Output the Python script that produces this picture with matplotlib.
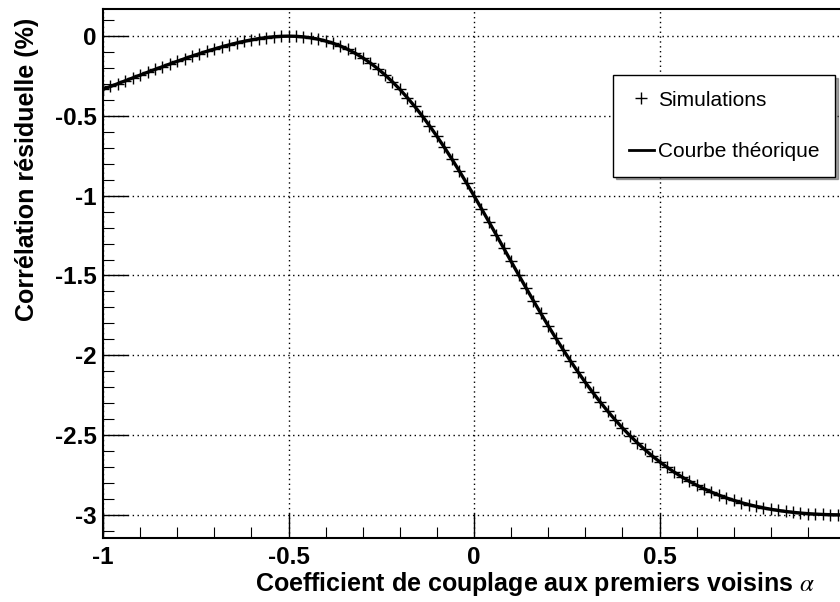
import numpy as np
import matplotlib.pyplot as plt
from matplotlib.lines import Line2D
from matplotlib.ticker import MultipleLocator

plt.rcParams["font.family"] = ["Liberation Sans", "DejaVu Sans"]
plt.rcParams["mathtext.fontset"] = "stix"

# coupling coefficient alpha, sampled every 0.02 from -1 to 1
alpha = np.linspace(-1, 1, 101)

# residual correlation (%)
correlation = -np.array([
    0.3333, 0.3155, 0.2977, 0.2799, 0.2620, 0.2443, 0.2266, 0.2091, 0.1918, 0.1747,
    0.1579, 0.1415, 0.1255, 0.1100, 0.0951, 0.0808, 0.0673, 0.0547, 0.0431, 0.0326,
    0.0233, 0.0153, 0.0088, 0.0040, 0.0010, 0.0000, 0.0011, 0.0045, 0.0104, 0.0189,
    0.0303, 0.0447, 0.0623, 0.0832, 0.1076, 0.1356, 0.1674, 0.2030, 0.2425, 0.2859,
    0.3333, 0.3847, 0.4399, 0.4988, 0.5614, 0.6275, 0.6967, 0.7689, 0.8437, 0.9209,
    1.0000, 1.0807, 1.1627, 1.2454, 1.3286, 1.4118, 1.4946, 1.5766, 1.6575, 1.7370,
    1.8148, 1.8906, 1.9641, 2.0352, 2.1038, 2.1695, 2.2324, 2.2924, 2.3494, 2.4035,
    2.4545, 2.5027, 2.5479, 2.5902, 2.6298, 2.6667, 2.7009, 2.7327, 2.7620, 2.7891,
    2.8140, 2.8367, 2.8575, 2.8764, 2.8936, 2.9091, 2.9230, 2.9354, 2.9466, 2.9563,
    2.9649, 2.9724, 2.9788, 2.9842, 2.9887, 2.9924, 2.9952, 2.9974, 2.9989, 2.9997,
    3.0000,
])

fig = plt.figure(figsize=(8.4, 6.02), dpi=100)
ax = fig.add_axes([103 / 840, 64 / 602, 742 / 840, 529 / 602])

ax.plot(alpha, correlation, color="black", lw=2.4, zorder=3)
ax.plot(alpha, correlation, ls="none", marker="+", ms=8, mew=1.0,
        color="black", zorder=4)

ax.set_xlim(-1, 1)
ax.set_ylim(-3.145, 0.17)
ax.xaxis.set_major_locator(MultipleLocator(0.5))
ax.xaxis.set_minor_locator(MultipleLocator(0.1))
ax.yaxis.set_major_locator(MultipleLocator(0.5))
ax.yaxis.set_minor_locator(MultipleLocator(0.1))
ax.xaxis.set_major_formatter(lambda v, p: "{:g}".format(v))
ax.yaxis.set_major_formatter(lambda v, p: "{:g}".format(v))

ax.tick_params(which="both", direction="in", top=False, right=False, color="black")
ax.tick_params(which="major", length=18, width=1.0, labelsize=17.5)
ax.tick_params(which="minor", length=8, width=0.8)
ax.tick_params(axis="x", pad=6)
ax.tick_params(axis="y", pad=4.5)
for lab in ax.get_xticklabels() + ax.get_yticklabels():
    lab.set_fontweight("bold")

ax.grid(True, which="major", color="black", ls=(0, (1, 2.5)), lw=1.0)
for s in ax.spines.values():
    s.set_linewidth(1.5)

ax.set_xlabel(r"Coefficient de couplage aux premiers voisins $\alpha$",
              fontsize=18, fontweight="bold", ha="right", va="center")
ax.xaxis.set_label_coords((815 - 103) / 742, (538 - 584) / 529)
ax.set_ylabel("Corrélation résiduelle (%)", fontsize=18, fontweight="bold",
              ha="center", va="center")
ax.yaxis.set_label_coords((27 - 103) / 742, (538 - 169) / 529)

handles = [
    Line2D([], [], ls="none", marker="+", ms=8, mew=1.0, color="black"),
    Line2D([], [], color="black", lw=2.0),
]
leg = ax.legend(handles, ["Simulations", "Courbe théorique"],
                loc="upper left", bbox_to_anchor=(613 / 840, 1 - 75 / 602),
                bbox_transform=fig.transFigure, borderaxespad=0,
                fontsize=15, frameon=True, fancybox=False, shadow=True,
                borderpad=0.75, labelspacing=1.55, handlelength=1.2,
                handletextpad=0.2)
leg.get_frame().set_edgecolor("black")
leg.get_frame().set_linewidth(1.0)

plt.savefig("out.png", dpi=100)
